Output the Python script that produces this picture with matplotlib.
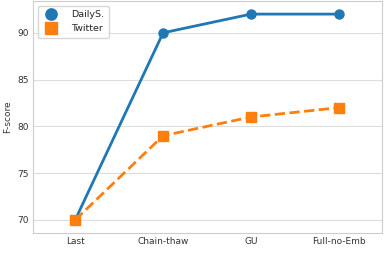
import matplotlib
matplotlib.use("Agg")
import matplotlib.pyplot as plt
import seaborn as sns

categories = ["Last", "Chain-thaw", "GU", "Full-no-Emb"]
dailys = [70, 90, 92, 92]
twitter = [70, 79, 81, 82]
yticks = [70, 75, 80, 85, 90]

sns.set_style("whitegrid")
plt.rcParams['font.family'] = ['DejaVu Sans']

fig = plt.figure(figsize=(3.89, 2.56), dpi=100)
ax = fig.add_axes([33/389, 23/256, 349/389, 232/256])
x = list(range(len(categories)))
ax.plot(x, dailys, '-o', color='#1f77b4', lw=2.0, ms=6.5, label='DailyS.')
ax.plot(x, twitter, '--s', color='#ff7f0e', lw=2.0, ms=6.5, label='Twitter')
ax.set_xticks(x)
ax.set_xticklabels(categories)
ax.set_yticks(yticks)
ax.set_xlim(-0.48, 3.49)
ax.set_ylim(68.6, 93.4)
ax.grid(axis='x', visible=False)
ax.grid(axis='y', color='#dddddd', lw=0.8)
for s in ax.spines.values():
    s.set_color('#cccccc')
    s.set_linewidth(0.8)
ax.tick_params(labelsize=6.5, colors='#333333', pad=3, length=0)
ax.set_ylabel('F-score', fontsize=6.5, color='#333333', labelpad=4)
leg = ax.legend(loc='upper left', fontsize=6.8, frameon=True, markerscale=1.25,
                handlelength=1.8, handletextpad=1.2, borderpad=0.5, labelspacing=0.5)
leg.get_frame().set_edgecolor('#cccccc')
for h in leg.legend_handles:
    h.set_linestyle('None')
fig.savefig('out.png', dpi=100)
